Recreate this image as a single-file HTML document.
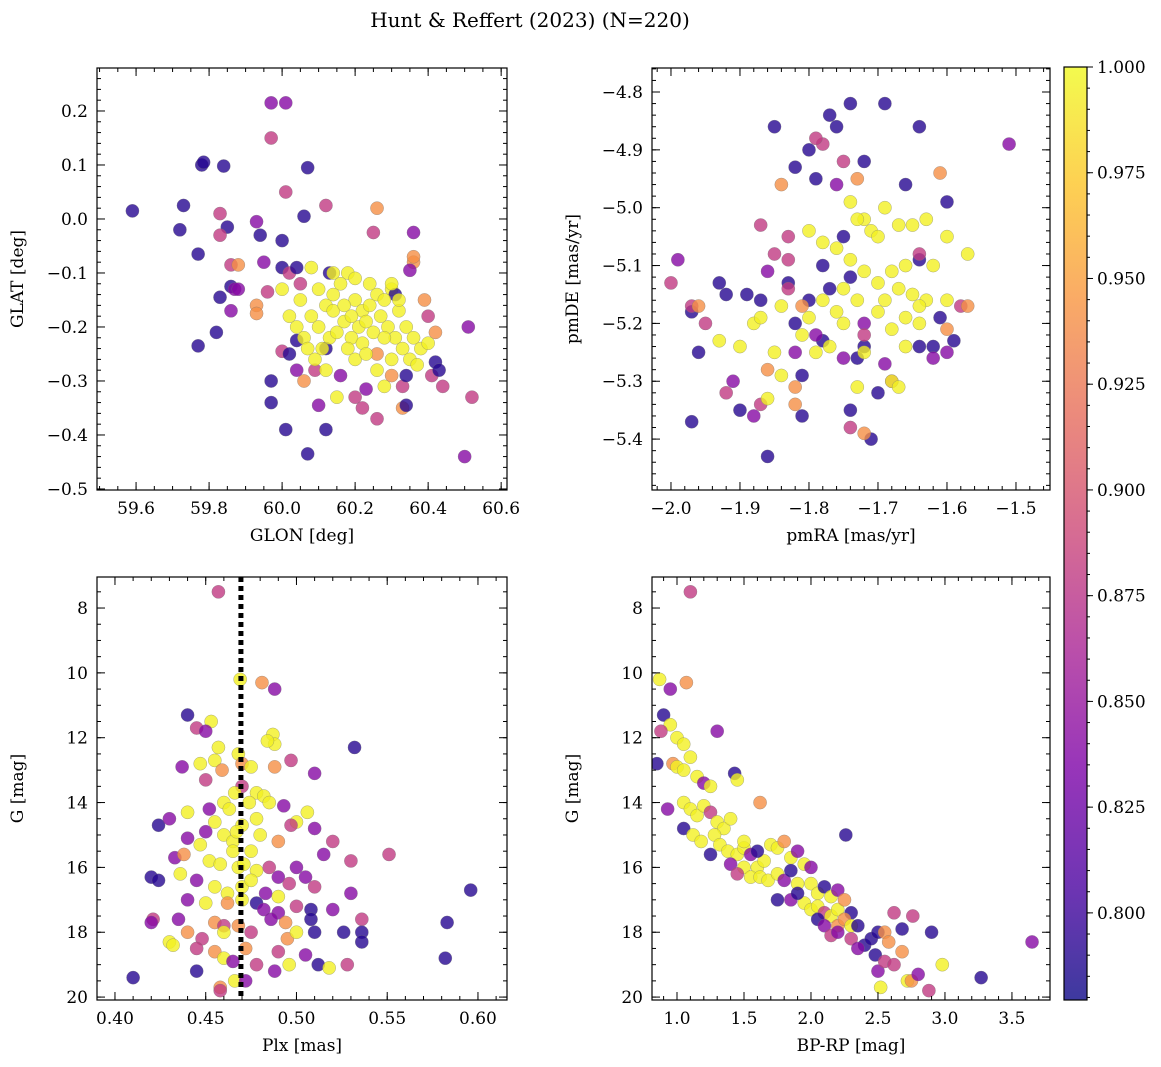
<!DOCTYPE html>
<html><head><meta charset="utf-8">
<style>
body{margin:0;background:#fff;}
svg{display:block;font-family:"DejaVu Serif","Liberation Serif",serif;}
</style></head>
<body>
<svg id="fig" width="1161" height="1067" xmlns="http://www.w3.org/2000/svg">
<defs>
<linearGradient id="plasma" x1="0" y1="1" x2="0" y2="0">
<stop offset="0" stop-color="#0d0887"/><stop offset="0.125" stop-color="#4c02a1"/>
<stop offset="0.25" stop-color="#7e03a8"/><stop offset="0.375" stop-color="#a92395"/>
<stop offset="0.5" stop-color="#cc4778"/><stop offset="0.625" stop-color="#e66c5c"/>
<stop offset="0.75" stop-color="#f89540"/><stop offset="0.875" stop-color="#fdc527"/>
<stop offset="1" stop-color="#f0f921"/></linearGradient>
</defs>
<text x="530" y="27" font-size="20" text-anchor="middle">Hunt &amp; Reffert (2023) (N=220)</text>
</svg>
<script>
// probability codes: d=0.79 p=0.84 m=0.88 o=0.94 y=0.995
const probCodes = {d:0.79,p:0.84,m:0.88,o:0.94,y:0.995};
const glonGlat = [[59.59,0.015,'d'],[59.72,-0.02,'d'],[59.73,0.025,'d'],[59.78,0.10,'d'],[59.785,0.105,'d'],[59.84,0.098,'d'],[59.97,0.215,'p'],[60.01,0.215,'p'],[59.97,0.15,'m'],[60.07,0.095,'d'],[60.01,0.05,'m'],[60.06,0.005,'d'],[60.12,0.025,'m'],[59.83,0.01,'m'],[59.85,-0.015,'d'],[59.83,-0.03,'m'],[59.93,-0.005,'p'],[59.94,-0.03,'d'],[60.0,-0.04,'d'],[60.26,0.02,'o'],[60.25,-0.025,'m'],[60.36,-0.025,'p'],[59.77,-0.065,'d'],[59.77,-0.235,'d'],[59.82,-0.21,'d'],[59.86,-0.085,'m'],[59.88,-0.085,'o'],[59.83,-0.145,'d'],[59.86,-0.125,'d'],[59.87,-0.13,'p'],[59.86,-0.17,'p'],[59.88,-0.13,'p'],[59.95,-0.08,'p'],[59.93,-0.16,'o'],[59.93,-0.175,'o'],[59.96,-0.135,'m'],[60.0,-0.09,'d'],[60.02,-0.1,'m'],[60.04,-0.09,'d'],[60.08,-0.09,'y'],[60.13,-0.1,'d'],[60.05,-0.12,'m'],[60.0,-0.13,'y'],[60.0,-0.245,'m'],[60.02,-0.25,'d'],[60.04,-0.225,'d'],[59.97,-0.3,'d'],[59.97,-0.34,'d'],[60.01,-0.39,'d'],[60.06,-0.3,'o'],[60.04,-0.28,'p'],[60.07,-0.435,'d'],[60.1,-0.345,'p'],[60.12,-0.39,'d'],[60.09,-0.28,'m'],[60.15,-0.33,'y'],[60.2,-0.33,'m'],[60.22,-0.35,'m'],[60.23,-0.315,'p'],[60.26,-0.37,'m'],[60.28,-0.31,'y'],[60.3,-0.29,'o'],[60.33,-0.35,'o'],[60.34,-0.345,'d'],[60.33,-0.31,'m'],[60.34,-0.29,'d'],[60.41,-0.29,'m'],[60.42,-0.265,'d'],[60.43,-0.28,'d'],[60.44,-0.31,'m'],[60.5,-0.44,'p'],[60.51,-0.2,'p'],[60.52,-0.33,'m'],[60.4,-0.18,'m'],[60.42,-0.21,'o'],[60.39,-0.15,'o'],[60.36,-0.08,'o'],[60.35,-0.095,'p'],[60.36,-0.07,'o'],[60.3,-0.13,'y'],[60.31,-0.14,'d'],[60.26,-0.25,'o'],[60.12,-0.24,'d'],[60.16,-0.29,'p'],
[60.05,-0.15,'y'],[60.08,-0.18,'y'],[60.1,-0.2,'y'],[60.12,-0.16,'y'],[60.14,-0.14,'y'],[60.16,-0.12,'y'],[60.18,-0.1,'y'],[60.2,-0.15,'y'],[60.22,-0.17,'y'],[60.24,-0.16,'y'],[60.26,-0.14,'y'],[60.28,-0.15,'y'],[60.3,-0.12,'y'],[60.32,-0.17,'y'],[60.34,-0.2,'y'],[60.36,-0.22,'y'],[60.38,-0.24,'y'],[60.4,-0.23,'y'],[60.06,-0.22,'y'],[60.09,-0.26,'y'],[60.11,-0.24,'y'],[60.13,-0.22,'y'],[60.15,-0.21,'y'],[60.17,-0.19,'y'],[60.19,-0.22,'y'],[60.21,-0.2,'y'],[60.23,-0.19,'y'],[60.25,-0.21,'y'],[60.27,-0.18,'y'],[60.29,-0.2,'y'],[60.31,-0.22,'y'],[60.33,-0.24,'y'],[60.35,-0.26,'y'],[60.2,-0.26,'y'],[60.18,-0.24,'y'],[60.22,-0.23,'y'],[60.26,-0.28,'y'],[60.1,-0.13,'y'],[60.04,-0.2,'y'],[60.07,-0.24,'y'],[60.12,-0.28,'y'],[60.3,-0.26,'y'],[60.37,-0.27,'y'],[60.24,-0.12,'y'],[60.2,-0.11,'y'],[60.14,-0.17,'y'],[60.28,-0.22,'y'],[60.32,-0.15,'y'],[60.17,-0.16,'y'],[60.19,-0.18,'y'],[60.23,-0.25,'y'],[60.02,-0.18,'y'],[60.14,-0.1,'y']];
const pmRaDe = [[-1.74,-4.82,'d'],[-1.69,-4.82,'d'],[-1.85,-4.86,'d'],[-1.77,-4.84,'d'],[-1.76,-4.86,'d'],[-1.64,-4.86,'d'],[-1.51,-4.89,'p'],[-1.8,-4.9,'d'],[-1.72,-4.92,'d'],[-1.82,-4.93,'d'],[-1.79,-4.95,'d'],[-1.66,-4.96,'d'],[-1.6,-4.99,'d'],[-1.97,-5.37,'d'],[-1.86,-5.43,'d'],[-1.9,-5.35,'d'],[-1.74,-5.35,'d'],[-1.81,-5.36,'d'],[-1.78,-5.23,'d'],[-1.73,-5.26,'d'],[-1.96,-5.25,'d'],[-1.93,-5.13,'d'],[-1.92,-5.15,'d'],[-1.97,-5.18,'d'],[-1.89,-5.15,'d'],[-1.87,-5.16,'d'],[-1.78,-5.1,'d'],[-1.74,-5.12,'d'],[-1.64,-5.09,'d'],[-1.61,-5.19,'d'],[-1.62,-5.24,'d'],[-1.64,-5.24,'d'],[-1.59,-5.23,'d'],[-1.72,-5.24,'d'],[-1.8,-5.16,'d'],[-1.77,-5.14,'d'],[-1.7,-5.32,'d'],[-1.71,-5.4,'d'],[-1.81,-5.29,'d'],[-1.82,-5.2,'d'],[-1.83,-5.13,'d'],[-1.75,-5.05,'d'],
[-1.99,-5.09,'p'],[-1.97,-5.17,'m'],[-1.95,-5.2,'m'],[-1.91,-5.3,'p'],[-1.88,-5.36,'p'],[-1.87,-5.34,'m'],[-1.92,-5.32,'m'],[-1.82,-5.25,'p'],[-1.78,-4.89,'m'],[-1.76,-4.96,'p'],[-1.75,-4.92,'m'],[-1.72,-5.2,'p'],[-1.72,-5.22,'m'],[-1.75,-5.26,'p'],[-1.68,-5.3,'m'],[-1.64,-5.08,'m'],[-1.58,-5.17,'m'],[-1.6,-5.25,'p'],[-1.69,-5.27,'p'],[-1.79,-5.22,'p'],[-1.83,-5.14,'m'],[-1.85,-5.08,'m'],[-1.86,-5.11,'p'],[-1.83,-5.05,'m'],[-1.74,-5.38,'m'],[-1.62,-5.26,'p'],
[-2.0,-5.13,'m'],[-1.96,-5.17,'o'],[-1.84,-4.96,'o'],[-1.79,-4.88,'m'],[-1.73,-4.95,'o'],[-1.61,-4.94,'o'],[-1.57,-5.17,'o'],[-1.6,-5.21,'o'],[-1.87,-5.03,'m'],[-1.83,-5.09,'m'],[-1.82,-5.31,'o'],[-1.82,-5.34,'o'],[-1.86,-5.28,'o'],[-1.72,-5.39,'o'],[-1.81,-5.17,'o'],
[-1.9,-5.24,'y'],[-1.93,-5.23,'y'],[-1.88,-5.2,'y'],[-1.85,-5.25,'y'],[-1.86,-5.33,'y'],[-1.84,-5.29,'y'],[-1.8,-5.04,'y'],[-1.78,-5.06,'y'],[-1.76,-5.07,'y'],[-1.74,-5.09,'y'],[-1.72,-5.02,'y'],[-1.71,-5.04,'y'],[-1.74,-4.99,'y'],[-1.73,-5.02,'y'],[-1.7,-5.05,'y'],[-1.69,-5.0,'y'],[-1.67,-5.03,'y'],[-1.65,-5.03,'y'],[-1.63,-5.02,'y'],[-1.6,-5.05,'y'],[-1.57,-5.08,'y'],[-1.62,-5.1,'y'],[-1.66,-5.1,'y'],[-1.68,-5.11,'y'],[-1.7,-5.13,'y'],[-1.72,-5.11,'y'],[-1.69,-5.16,'y'],[-1.67,-5.14,'y'],[-1.65,-5.15,'y'],[-1.63,-5.16,'y'],[-1.66,-5.19,'y'],[-1.68,-5.21,'y'],[-1.7,-5.18,'y'],[-1.73,-5.16,'y'],[-1.75,-5.14,'y'],[-1.78,-5.16,'y'],[-1.8,-5.19,'y'],[-1.81,-5.22,'y'],[-1.79,-5.25,'y'],[-1.77,-5.24,'y'],[-1.75,-5.2,'y'],[-1.76,-5.18,'y'],[-1.66,-5.24,'y'],[-1.64,-5.2,'y'],[-1.6,-5.16,'y'],[-1.68,-5.3,'y'],[-1.67,-5.31,'y'],[-1.73,-5.31,'y'],[-1.64,-5.17,'y'],[-1.72,-5.25,'y'],[-1.84,-5.17,'y'],[-1.87,-5.19,'y']];
const plxG = [[0.457,7.5,'m'],[0.469,10.2,'y'],[0.481,10.3,'o'],[0.488,10.5,'p'],[0.44,11.3,'d'],[0.453,11.5,'y'],[0.445,11.7,'m'],[0.45,11.8,'p'],[0.487,11.9,'y'],[0.488,12.2,'y'],[0.484,12.1,'y'],[0.457,12.3,'y'],[0.532,12.3,'d'],[0.447,12.8,'y'],[0.437,12.9,'p'],[0.455,12.7,'y'],[0.468,12.5,'y'],[0.47,12.8,'o'],[0.475,12.9,'y'],[0.497,12.7,'m'],[0.488,12.9,'o'],[0.51,13.1,'p'],[0.459,13.0,'o'],[0.45,13.3,'m'],[0.47,13.5,'m'],[0.478,13.7,'y'],[0.482,13.8,'y'],[0.466,13.7,'y'],[0.46,14.0,'y'],[0.463,14.2,'y'],[0.44,14.3,'y'],[0.452,14.2,'p'],[0.474,14.0,'y'],[0.485,14.0,'y'],[0.493,14.1,'p'],[0.506,14.3,'y'],[0.5,14.6,'y'],[0.478,14.5,'y'],[0.47,14.7,'y'],[0.455,14.6,'y'],[0.424,14.7,'d'],[0.43,14.5,'p'],[0.45,14.9,'p'],[0.44,15.1,'p'],[0.447,15.3,'y'],[0.46,15.0,'y'],[0.465,15.2,'y'],[0.48,15.0,'y'],[0.49,15.2,'o'],[0.497,14.7,'m'],[0.51,14.8,'p'],[0.52,15.2,'m'],[0.515,15.6,'p'],[0.53,15.8,'m'],[0.551,15.6,'m'],[0.433,15.7,'p'],[0.438,15.6,'o'],[0.452,15.8,'y'],[0.458,15.9,'y'],[0.468,16.0,'y'],[0.471,15.9,'y'],[0.478,16.1,'y'],[0.485,16.0,'m'],[0.49,16.3,'p'],[0.5,16.0,'p'],[0.505,16.3,'p'],[0.42,16.3,'d'],[0.424,16.4,'d'],[0.436,16.2,'y'],[0.445,16.4,'p'],[0.455,16.6,'y'],[0.462,16.8,'y'],[0.47,16.6,'y'],[0.475,16.4,'y'],[0.483,16.8,'p'],[0.49,16.9,'y'],[0.496,16.5,'m'],[0.51,16.6,'m'],[0.53,16.8,'p'],[0.596,16.7,'d'],[0.44,17.0,'p'],[0.45,17.1,'y'],[0.462,17.1,'o'],[0.47,17.0,'y'],[0.478,17.1,'d'],[0.482,17.3,'p'],[0.49,17.4,'p'],[0.5,17.2,'m'],[0.508,17.3,'d'],[0.52,17.3,'p'],[0.536,17.6,'m'],[0.421,17.6,'m'],[0.42,17.7,'p'],[0.435,17.6,'p'],[0.455,17.7,'o'],[0.46,17.8,'m'],[0.468,17.8,'o'],[0.486,17.6,'p'],[0.494,17.7,'o'],[0.508,17.6,'d'],[0.583,17.7,'d'],[0.44,18.0,'o'],[0.448,18.2,'m'],[0.46,18.0,'y'],[0.475,18.0,'m'],[0.495,18.2,'o'],[0.5,18.0,'y'],[0.51,18.0,'d'],[0.526,18.0,'d'],[0.536,18.0,'d'],[0.536,18.3,'d'],[0.445,18.5,'m'],[0.455,18.6,'o'],[0.46,18.8,'y'],[0.472,18.5,'o'],[0.49,18.6,'m'],[0.505,18.7,'p'],[0.582,18.8,'d'],[0.41,19.4,'d'],[0.445,19.2,'d'],[0.458,19.7,'o'],[0.466,19.5,'y'],[0.478,19.0,'m'],[0.488,19.2,'p'],[0.496,19.0,'y'],[0.512,19.0,'d'],[0.518,19.1,'y'],[0.528,19.0,'m'],[0.458,19.8,'m'],[0.472,19.5,'p'],[0.465,18.9,'p'],[0.43,18.3,'y'],[0.432,18.4,'y'],[0.475,15.5,'y'],[0.465,15.5,'y'],[0.467,14.9,'y']];
const bprpG = [[0.87,10.2,'y'],[0.95,10.5,'p'],[1.07,10.3,'o'],[1.1,7.5,'m'],[0.9,11.3,'d'],[0.95,11.6,'y'],[0.88,11.8,'m'],[1.0,12.0,'y'],[1.05,12.2,'y'],[1.3,11.8,'p'],[0.85,12.8,'d'],[0.97,12.8,'o'],[1.0,12.9,'y'],[1.05,13.0,'y'],[1.1,12.6,'y'],[1.15,13.2,'y'],[1.2,13.4,'p'],[1.25,13.5,'y'],[1.43,13.1,'d'],[1.45,13.3,'y'],[0.93,14.2,'p'],[1.05,14.0,'y'],[1.1,14.2,'y'],[1.15,14.4,'y'],[1.2,14.1,'y'],[1.25,14.3,'m'],[1.3,14.6,'y'],[1.35,14.8,'y'],[1.4,14.5,'y'],[1.62,14.0,'o'],[1.05,14.8,'d'],[1.12,15.0,'y'],[1.18,15.2,'y'],[1.28,15.0,'y'],[1.32,15.3,'y'],[1.38,15.5,'y'],[1.45,15.6,'y'],[1.5,15.4,'y'],[1.55,15.6,'p'],[1.25,15.6,'d'],[1.4,15.9,'p'],[1.5,16.0,'y'],[1.6,16.0,'y'],[1.65,15.8,'y'],[1.7,15.3,'y'],[1.75,15.4,'y'],[1.8,15.2,'o'],[1.85,15.7,'y'],[1.9,15.5,'p'],[1.95,15.9,'y'],[1.45,16.2,'m'],[1.55,16.3,'y'],[1.62,16.3,'y'],[1.68,16.4,'y'],[1.75,16.2,'y'],[1.8,16.4,'p'],[1.85,16.1,'d'],[1.9,16.5,'y'],[2.0,16.5,'y'],[2.05,16.8,'y'],[2.1,16.6,'d'],[2.15,16.9,'y'],[2.2,16.7,'p'],[2.26,15.0,'d'],[1.75,17.0,'d'],[1.85,17.0,'p'],[1.95,17.1,'y'],[2.0,17.3,'y'],[2.05,17.2,'y'],[2.1,17.4,'m'],[2.15,17.5,'y'],[2.2,17.3,'y'],[2.25,17.0,'o'],[2.3,17.4,'d'],[2.05,17.6,'d'],[2.1,17.8,'p'],[2.2,17.8,'o'],[2.25,17.6,'o'],[2.3,17.8,'y'],[2.35,17.8,'d'],[2.15,18.1,'m'],[2.2,18.0,'p'],[2.3,18.2,'m'],[2.4,18.4,'d'],[2.45,18.2,'d'],[2.5,18.0,'d'],[2.55,18.0,'o'],[2.58,18.3,'o'],[2.68,17.9,'d'],[2.76,17.5,'m'],[2.62,17.4,'m'],[2.9,18.0,'d'],[2.48,18.7,'d'],[2.5,19.2,'p'],[2.55,18.9,'m'],[2.62,19.0,'m'],[2.68,18.6,'o'],[2.72,19.5,'y'],[2.75,19.5,'o'],[2.8,19.3,'p'],[2.88,19.8,'m'],[2.52,19.7,'y'],[2.98,19.0,'y'],[3.27,19.4,'d'],[3.65,18.3,'p'],[1.5,15.2,'y'],[1.6,15.5,'d'],[2.0,16.0,'p'],[1.9,16.8,'d'],[2.35,18.5,'p']];
const plxCut = 0.4694;
const cbTicks = [0.800,0.825,0.850,0.875,0.900,0.925,0.950,0.975,1.000];

const NS='http://www.w3.org/2000/svg';
const svg=document.getElementById('fig');
function mk(tag,attrs,parent){const e=document.createElementNS(NS,tag);for(const k in attrs)e.setAttribute(k,attrs[k]);(parent||svg).appendChild(e);return e;}
const stops=[[13,8,135],[76,2,161],[126,3,168],[169,35,149],[204,71,120],[230,108,92],[248,149,64],[253,197,39],[240,249,33]];
const vmin=0.7794,vmax=1.0;
function cmap(v){let t=(v-vmin)/(vmax-vmin);t=Math.max(0,Math.min(1,t))*8;const i=Math.min(7,Math.floor(t)),f=t-i;const a=stops[i],b=stops[i+1];return `rgb(${a.map((c,j)=>Math.round(c+(b[j]-c)*f)).join(',')})`;}
function fmt(v,d){let s=Math.abs(v).toFixed(d);return (v<-1e-9?'\u2212':'')+s;}

function panel(name,box,xr,yr,xt,xminor,yt,yminor,xd,yd,xlabel,ylabel,data){
  const [L,T,R,B]=box;
  const sx=v=>L+(v-xr[0])/(xr[1]-xr[0])*(R-L);
  const sy=v=>B-(v-yr[0])/(yr[1]-yr[0])*(B-T);
  const g=mk('g',{});
  
  
  const clip=mk('clipPath',{id:name+'-clip'},g);mk('rect',{x:L,y:T,width:R-L,height:B-T},clip);
  const pts=mk('g',{'clip-path':`url(#${name}-clip)`},g);
  data.forEach(d=>{const c=mk('circle',{cx:sx(d[0]),cy:sy(d[1]),r:6.6,fill:cmap(probCodes[d[2]]),'fill-opacity':0.8,stroke:'#777','stroke-width':0.5,'stroke-opacity':0.6},pts);
    
    });
  const ax=mk('g',{stroke:'#000','stroke-width':1},g);
  const inr=(v,r)=>v>=Math.min(...r)-1e-9&&v<=Math.max(...r)+1e-9;
  for(let v=Math.ceil(Math.min(...xr)/xminor)*xminor;v<=Math.max(...xr);v+=xminor){const x=sx(v);mk('line',{x1:x,x2:x,y1:B,y2:B-4},ax);mk('line',{x1:x,x2:x,y1:T,y2:T+4},ax);}
  for(let v=Math.ceil(Math.min(...yr)/yminor)*yminor;v<=Math.max(...yr);v+=yminor){const y=sy(v);mk('line',{x1:L,x2:L+4,y1:y,y2:y},ax);mk('line',{x1:R,x2:R-4,y1:y,y2:y},ax);}
  xt.forEach(v=>{if(!inr(v,xr))return;const x=sx(v);mk('line',{x1:x,x2:x,y1:B,y2:B-8},ax);mk('line',{x1:x,x2:x,y1:T,y2:T+8},ax);
    const t=mk('text',{x:x,y:B+24,'font-size':17,'text-anchor':'middle'},g);t.textContent=fmt(v,xd);
    
    });
  yt.forEach(v=>{if(!inr(v,yr))return;const y=sy(v);mk('line',{x1:L,x2:L+8,y1:y,y2:y},ax);mk('line',{x1:R,x2:R-8,y1:y,y2:y},ax);
    const t=mk('text',{x:L-9,y:y+6,'font-size':17,'text-anchor':'end'},g);t.textContent=fmt(v,yd);
    
    });
  mk('rect',{x:L,y:T,width:R-L,height:B-T,fill:'none',stroke:'#000','stroke-width':1.2},g);
  const xl=mk('text',{x:(L+R)/2,y:B+51,'font-size':17,'text-anchor':'middle'},g);xl.textContent=xlabel;
  
  
  const yl=mk('text',{x:0,y:0,'font-size':17,'text-anchor':'middle',transform:`translate(${L-74},${(T+B)/2}) rotate(-90)`},g);yl.textContent=ylabel;
  
  
  return {sx,sy,g};
}
const rng=(a,b,s)=>{const r=[];for(let v=a;v<=b+1e-9;v+=s)r.push(+v.toFixed(6));return r;};
panel('glon-glat-panel',[97,68,507,490],[59.493,60.616],[-0.5019,0.2796],rng(59.6,60.6,0.2),0.05,rng(-0.5,0.2,0.1),0.02,1,1,'GLON [deg]','GLAT [deg]',glonGlat);
panel('proper-motion-panel',[652,68,1050,490],[-2.0275,-1.4507],[-5.488,-4.7585],rng(-2.0,-1.5,0.1),0.02,rng(-5.4,-4.8,0.1),0.02,1,1,'pmRA [mas/yr]','pmDE [mas/yr]',pmRaDe);
const p3=panel('parallax-panel',[97,577,507,1000],[0.3901,0.616],[20.09,7.043],rng(0.40,0.60,0.05),0.01,rng(8,20,2),0.5,2,0,'Plx [mas]','G [mag]',plxG);
const cut=mk('line',{x1:p3.sx(plxCut),x2:p3.sx(plxCut),y1:577,y2:1000,stroke:'#000','stroke-width':5,'stroke-dasharray':'5,4'},p3.g);


panel('cmd-panel',[652,577,1050,1000],[0.8134,3.784],[20.09,7.043],rng(1.0,3.5,0.5),0.1,rng(8,20,2),0.5,1,0,'BP-RP [mag]','G [mag]',bprpG);

// colorbar
const cb=mk('g',{});


const cL=1064,cR=1087,cT=67,cB=1000;
const cy=v=>cB-(v-vmin)/(vmax-vmin)*(cB-cT);
mk('rect',{x:cL,y:cT,width:cR-cL,height:cB-cT,fill:'url(#plasma)','fill-opacity':0.8},cb);
for(let v=0.78;v<=1.0001;v+=0.005){if(v<vmin)continue;const y=cy(v);mk('line',{x1:cR,x2:cR+3,y1:y,y2:y,stroke:'#000'},cb);}
cbTicks.forEach(v=>{const y=cy(v);mk('line',{x1:cR,x2:cR+6,y1:y,y2:y,stroke:'#000'},cb);
  const t=mk('text',{x:cR+10,y:y+6,'font-size':17},cb);t.textContent=v.toFixed(3);
  
  });
mk('rect',{x:cL,y:cT,width:cR-cL,height:cB-cT,fill:'none',stroke:'#000','stroke-width':1.2},cb);
</script>
</body></html>
